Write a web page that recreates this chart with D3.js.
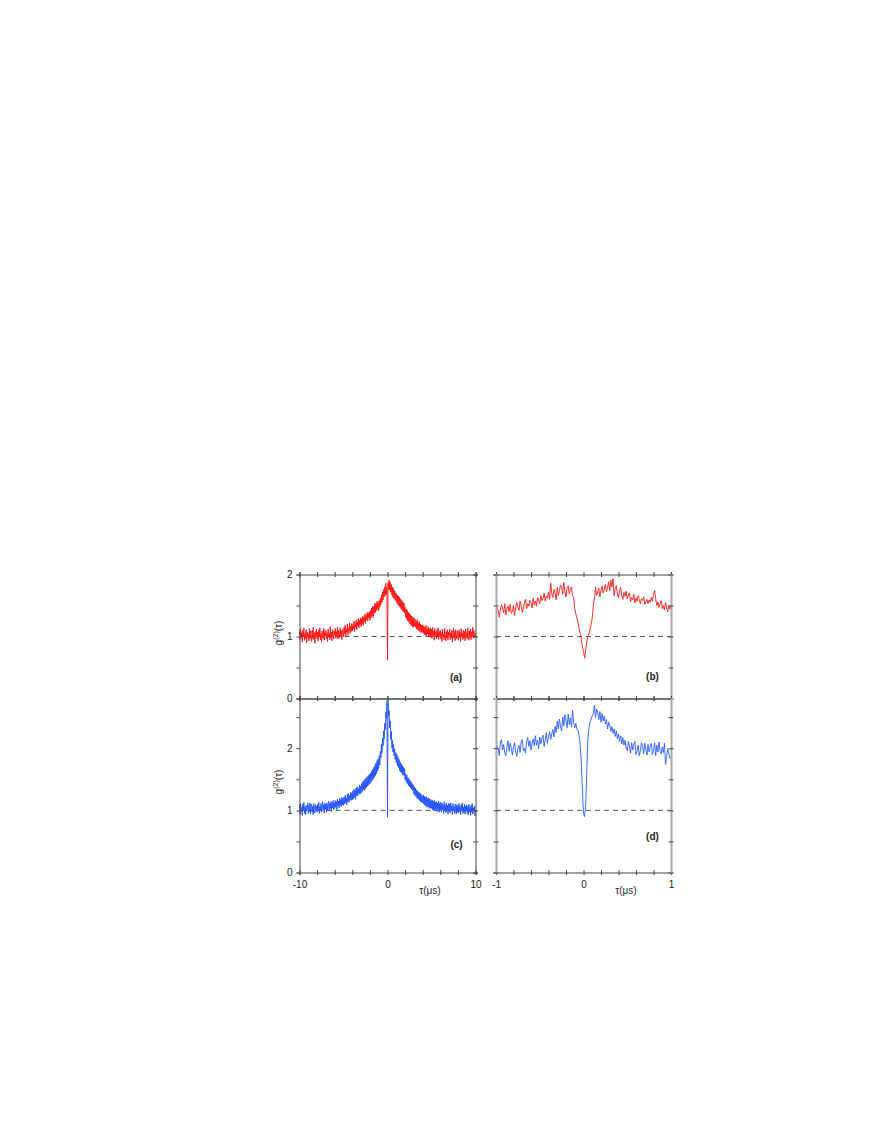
<!DOCTYPE html>
<html><head><meta charset="utf-8">
<script src="https://cdn.jsdelivr.net/npm/d3@7"></script>
<style>
body{margin:0;background:#fff}
svg{display:block}
text{font-family:"Liberation Sans",Arial,Helvetica,sans-serif}
</style>
</head><body>
<svg id="chart" width="872" height="1128"></svg>
<script>
// ---------- DATA ----------
// panel (a): g2(tau), tau from -10 to 10 us, sampled every 0.0625 us
const g2A = [
1.08,0.95,1.12,0.98,1.06,0.91,1.10,1.00,1.14,0.94,1.05,0.97,1.11,0.90,1.07,0.99,
1.04,0.93,1.13,0.96,1.09,1.01,0.92,1.10,0.97,1.15,0.95,1.06,0.89,1.08,0.99,1.12,
0.96,1.07,0.93,1.11,1.00,1.14,0.95,1.05,0.91,1.09,1.02,0.97,1.13,0.94,1.08,1.01,
1.10,0.96,1.06,0.92,1.12,0.99,1.04,0.95,1.16,0.98,1.07,0.93,1.11,1.00,0.96,1.09,
1.02,1.13,0.97,1.08,1.00,1.15,0.96,1.10,1.04,0.98,1.14,1.01,1.09,0.95,1.12,1.06,
1.00,1.15,1.04,1.18,0.99,1.12,1.07,1.20,1.02,1.14,1.09,1.22,1.05,1.17,1.08,1.21,
1.09,1.19,1.12,1.25,1.08,1.21,1.15,1.27,1.11,1.23,1.17,1.29,1.14,1.26,1.19,1.30,
1.16,1.29,1.20,1.33,1.18,1.31,1.24,1.36,1.21,1.34,1.27,1.39,1.25,1.37,1.30,1.40,
1.26,1.42,1.30,1.46,1.33,1.49,1.31,1.48,1.37,1.54,1.39,1.52,1.42,1.57,1.44,1.55,
1.42,1.58,1.47,1.62,1.51,1.67,1.55,1.72,1.59,1.76,1.64,1.80,1.66,1.86,1.68,1.79,
0.62,1.87,1.76,1.91,1.75,1.88,1.71,1.84,1.67,1.80,1.63,1.77,1.61,1.74,1.58,1.70,
1.70,1.54,1.67,1.51,1.65,1.49,1.63,1.47,1.60,1.44,1.58,1.42,1.56,1.40,1.54,1.38,
1.47,1.31,1.44,1.28,1.42,1.25,1.39,1.23,1.37,1.20,1.35,1.18,1.33,1.16,1.31,1.15,
1.30,1.17,1.28,1.15,1.25,1.12,1.27,1.11,1.22,1.09,1.24,1.08,1.20,1.06,1.18,1.07,
1.19,1.05,1.17,1.03,1.15,1.02,1.18,1.00,1.13,1.04,1.16,0.99,1.12,1.01,1.14,0.98,
1.12,0.97,1.15,1.00,1.09,0.94,1.13,1.02,1.07,0.96,1.11,0.99,1.14,0.95,1.08,1.01,
1.10,0.96,1.06,0.92,1.12,0.99,1.04,0.95,1.13,1.00,0.93,1.08,0.97,1.11,0.94,1.07,
1.01,1.12,0.95,1.06,0.98,1.10,0.91,1.05,1.14,0.97,1.08,0.93,1.11,1.00,0.96,1.09,
1.04,0.94,1.11,0.98,1.07,0.92,1.13,1.00,1.05,0.95,1.10,0.97,1.08,0.93,1.12,0.99,
1.06,0.96,1.14,1.01,0.94,1.09,0.98,1.12,0.95,1.07,1.00,1.15,0.97,1.10,1.03,0.99,
1.05];

// panel (b): g2(tau), tau from -1 to 1 us, sampled every 0.0125 us
const g2B = [
1.36,1.47,1.42,1.31,1.44,1.51,1.46,1.38,1.53,1.35,
1.45,1.49,1.40,1.52,1.37,1.41,1.50,1.34,1.46,1.55,
1.48,1.42,1.57,1.50,1.39,1.46,1.54,1.60,1.45,1.53,
1.49,1.58,1.55,1.46,1.62,1.51,1.57,1.49,1.63,1.59,
1.53,1.66,1.58,1.61,1.70,1.57,1.65,1.62,1.72,1.60,
1.86,1.69,1.63,1.76,1.71,1.59,1.79,1.66,1.74,1.83,
1.80,1.68,1.87,1.72,1.64,1.78,1.82,1.69,1.75,1.80,
1.66,1.62,1.45,1.36,1.30,1.22,1.12,1.05,0.95,0.85,
0.76,0.65,0.78,0.92,1.00,1.04,1.12,1.20,1.30,1.50,
1.62,1.80,1.66,1.72,1.78,1.64,1.75,1.81,1.70,1.76,
1.84,1.72,1.79,1.88,1.74,1.91,1.80,1.93,1.66,1.77,
1.82,1.69,1.62,1.74,1.79,1.66,1.60,1.71,1.65,1.73,
1.61,1.67,1.70,1.56,1.63,1.59,1.68,1.54,1.62,1.57,
1.66,1.60,1.53,1.61,1.58,1.64,1.52,1.56,1.60,1.53,
1.59,1.55,1.63,1.57,1.68,1.74,1.61,1.50,1.56,1.47,
1.53,1.58,1.45,1.50,1.43,1.55,1.46,1.40,1.51,1.44,
1.50];

// panel (c): g2(tau), tau from -10 to 10 us, sampled every 0.0625 us
const g2C = [
1.09,0.94,1.11,0.98,1.05,0.92,1.10,1.01,1.13,0.95,1.06,0.93,1.08,0.99,1.04,1.12,
0.95,1.08,0.98,1.12,0.94,1.05,1.10,0.97,1.07,0.93,1.11,1.00,0.96,1.09,0.99,1.07,
0.97,1.10,1.00,1.13,0.95,1.06,0.99,1.11,0.97,1.08,1.14,1.00,1.09,0.96,1.12,1.02,
1.10,0.97,1.12,1.00,1.08,1.15,0.99,1.11,1.03,1.14,0.98,1.13,1.04,1.16,1.01,1.12,
1.03,1.16,1.05,1.14,1.01,1.18,1.07,1.15,1.04,1.20,1.08,1.17,1.06,1.21,1.09,1.19,
1.08,1.21,1.10,1.24,1.12,1.20,1.09,1.26,1.14,1.27,1.13,1.24,1.17,1.29,1.16,1.28,
1.17,1.31,1.19,1.34,1.21,1.32,1.18,1.36,1.24,1.38,1.23,1.35,1.27,1.41,1.26,1.39,
1.28,1.43,1.30,1.46,1.33,1.48,1.32,1.50,1.35,1.52,1.37,1.54,1.39,1.56,1.41,1.58,
1.43,1.60,1.45,1.63,1.48,1.66,1.50,1.69,1.53,1.72,1.56,1.76,1.59,1.80,1.63,1.83,
1.67,1.88,1.73,1.95,1.85,2.07,1.92,2.16,2.04,2.28,2.15,2.40,2.30,2.58,2.48,2.76,
0.89,2.75,2.52,2.60,2.33,2.44,2.14,2.27,2.00,2.13,1.94,2.06,1.88,1.99,1.82,1.93,
1.77,1.90,1.72,1.86,1.69,1.82,1.64,1.78,1.62,1.75,1.60,1.72,1.57,1.70,1.56,1.67,
1.49,1.59,1.46,1.57,1.43,1.53,1.40,1.51,1.38,1.48,1.36,1.46,1.34,1.43,1.32,1.41,
1.26,1.38,1.24,1.36,1.22,1.33,1.19,1.31,1.18,1.29,1.16,1.28,1.14,1.26,1.13,1.23,
1.12,1.25,1.10,1.23,1.08,1.21,1.07,1.22,1.05,1.19,1.06,1.20,1.03,1.18,1.04,1.16,
1.03,1.17,1.01,1.15,1.00,1.16,0.99,1.13,1.02,1.14,0.98,1.12,1.01,1.15,0.97,1.11,
1.00,1.13,0.97,1.12,1.01,1.10,0.95,1.14,0.99,1.09,0.96,1.12,1.00,1.08,0.94,1.11,
0.98,1.10,0.96,1.12,1.00,1.07,0.93,1.11,0.99,1.06,0.95,1.10,1.01,0.94,1.09,0.97,
1.08,0.96,1.11,0.98,1.06,0.93,1.09,1.00,1.12,0.95,1.05,0.97,1.10,0.94,1.07,0.99,
1.09,0.95,1.06,0.93,1.10,0.98,1.05,0.92,1.08,0.97,1.11,0.94,1.04,0.99,1.07,0.91,
1.00];

// panel (d): g2(tau), tau from -1 to 1 us, sampled every 0.0125 us
const g2D = [
1.90,2.04,1.99,1.88,2.10,2.14,1.97,2.06,1.92,1.88,
2.02,2.12,1.95,2.08,1.99,1.89,2.03,2.09,1.94,1.87,
2.00,2.05,1.93,2.10,2.14,1.96,2.00,1.92,2.11,2.17,
2.03,2.12,1.97,2.08,2.15,2.04,2.20,2.05,2.13,1.99,
2.18,2.07,2.16,2.21,2.03,2.14,2.25,2.08,2.19,2.27,
2.14,2.23,2.30,2.18,2.35,2.25,2.44,2.31,2.47,2.34,
2.28,2.50,2.36,2.54,2.45,2.33,2.55,2.38,2.49,2.34,
2.61,2.41,2.33,2.40,2.30,2.29,2.20,2.05,1.76,1.32,
0.95,0.90,1.08,1.62,2.15,2.32,2.42,2.47,2.52,2.55,
2.69,2.49,2.63,2.57,2.46,2.59,2.42,2.56,2.44,2.52,
2.39,2.46,2.31,2.42,2.37,2.27,2.35,2.24,2.31,2.19,
2.28,2.15,2.23,2.11,2.20,2.07,2.17,2.05,2.13,2.00,
1.96,2.11,2.04,1.92,2.09,1.97,2.07,2.11,1.90,1.95,
2.05,1.88,1.96,2.09,2.04,1.91,2.08,1.98,1.89,2.06,
1.94,2.03,2.08,1.90,1.96,2.09,1.88,2.05,1.94,2.10,
1.95,1.91,2.02,1.93,2.08,1.74,1.87,1.99,1.91,1.84,
1.86];

const wideRange = [-10, 10], wideStep = 0.0625;
const narrowRange = [-1, 1], narrowStep = 0.0125;
const wideTicks = [-10,-8,-6,-4,-2,0,2,4,6,8,10];
const wideTickLabels = [-10,0,10];
const narrowTicks = [-1,-0.8,-0.6,-0.4,-0.2,0,0.2,0.4,0.6,0.8,1];
const narrowTickLabels = [-1,0,1];
const yTicksTop = [0,0.5,1,1.5,2];
const yTicksBottom = [0,0.5,1,1.5,2,2.5];
const yTickLabels = [0,1,2];
const yDomainTop = [0,2], yDomainBottom = [0,2.8];
const panelLabels = ["(a)","(b)","(c)","(d)"];
const xTitle = "τ(μs)";
const refLevel = 1;

// ---------- LAYOUT ----------
const svg = d3.select("#chart");
svg.append("rect").attr("width",872).attr("height",1128).attr("fill","#fff");

const cols = [
  {x0:299.5, x1:475.5, dom:wideRange, step:wideStep, ticks:wideTicks, labels:wideTickLabels, frame:"#444", fw:1},
  {x0:496, x1:671, dom:narrowRange, step:narrowStep, ticks:narrowTicks, labels:narrowTickLabels, frame:"#aaa", fw:2}
];
const rows = [
  {y0:574.5, y1:698.5, dom:yDomainTop, ticks:yTicksTop},
  {y0:698.5, y1:872.5, dom:yDomainBottom, ticks:yTicksBottom}
];
const panels = [
  {r:0,c:0,data:g2A,color:"#ff1010",label:panelLabels[0],lx:456,ly:677},
  {r:0,c:1,data:g2B,color:"#ff1a1a",label:panelLabels[1],lx:652.5,ly:676},
  {r:1,c:0,data:g2C,color:"#1f4fff",label:panelLabels[2],lx:456.5,ly:844},
  {r:1,c:1,data:g2D,color:"#2a5cff",label:panelLabels[3],lx:652.5,ly:836}
];
const dark = "#444";

panels.forEach(p => {
  const C = cols[p.c], R = rows[p.r];
  const x = d3.scaleLinear().domain(C.dom).range([C.x0, C.x1]);
  const y = d3.scaleLinear().domain(R.dom).range([R.y1, R.y0]);
  const g = svg.append("g");

  // reference dashed line
  g.append("line").attr("x1",C.x0).attr("x2",C.x1)
    .attr("y1",y(refLevel)).attr("y2",y(refLevel))
    .attr("stroke","#555").attr("stroke-width",1).attr("stroke-dasharray","5,4");

  // data line
  const line = d3.line().x((d,i)=>x(C.dom[0]+i*C.step)).y(d=>y(d));
  g.append("path").datum(p.data).attr("d",line)
    .attr("fill","none").attr("stroke",p.color).attr("stroke-width",0.9)
    .attr("stroke-linejoin","round");

  // top axis (ticks crossing, no labels)
  const top = g.append("g").attr("transform",`translate(0,${R.y0})`)
    .call(d3.axisTop(x).tickValues(C.ticks).tickFormat("").tickSizeOuter(0).tickSize(2.5));
  // bottom axis
  const showX = p.r === 1;
  const bot = g.append("g").attr("transform",`translate(0,${R.y1})`)
    .call(d3.axisBottom(x).tickValues(C.ticks).tickSizeOuter(0).tickSize(2.5).tickPadding(6)
      .tickFormat(d => (showX && C.labels.includes(d)) ? String(d) : ""));
  // left axis
  const showY = p.c === 0;
  const left = g.append("g").attr("transform",`translate(${C.x0},0)`)
    .call(d3.axisLeft(y).tickValues(R.ticks).tickSizeOuter(0).tickSize(3).tickPadding(4)
      .tickFormat(d => (showY && yTickLabels.includes(d)) ? String(d) : ""));
  // right axis
  const right = g.append("g").attr("transform",`translate(${C.x1},0)`)
    .call(d3.axisRight(y).tickValues(R.ticks).tickFormat("").tickSizeOuter(0).tickSize(2.5));

  [top,bot].forEach(a => {
    a.select(".domain").attr("stroke",dark).attr("stroke-width",1);
    a.selectAll(".tick line").attr("y1",-2.5).attr("y2",2.5).attr("stroke",dark);
  });
  [left,right].forEach((a,k) => {
    a.select(".domain").attr("stroke",C.frame).attr("stroke-width",C.fw);
    a.selectAll(".tick line").attr("stroke",dark);
    if (!(k===0 && showY)) a.selectAll(".tick line").attr("x1",-2.5).attr("x2",2.5);
  });
  g.selectAll(".tick text").attr("font-size",10).attr("fill","#222")
    .attr("font-family",'"Liberation Sans",Arial,sans-serif');

  // panel label
  g.append("text").attr("x",p.lx).attr("y",p.ly).attr("dy","0.35em")
    .attr("text-anchor","middle").attr("font-size",10).attr("font-weight","bold")
    .attr("fill","#222").text(p.label);

  // x title
  if (showX) {
    g.append("text").attr("x", p.c===0 ? 430 : 626).attr("y",890).attr("dy","0.35em")
      .attr("text-anchor","middle").attr("font-size",10).attr("fill","#222").text(xTitle);
  }
  // y title
  if (showY) {
    const cy = p.r===0 ? 633 : 782;
    const t = g.append("text").attr("transform",`translate(282,${cy}) rotate(-90)`)
      .attr("text-anchor","middle").attr("font-size",10).attr("fill","#222");
    t.append("tspan").text("g");
    t.append("tspan").attr("font-size",7).attr("dy",-4).text("(2)");
    t.append("tspan").attr("dy",4).text("(τ)");
  }
});
</script>
</body></html>
